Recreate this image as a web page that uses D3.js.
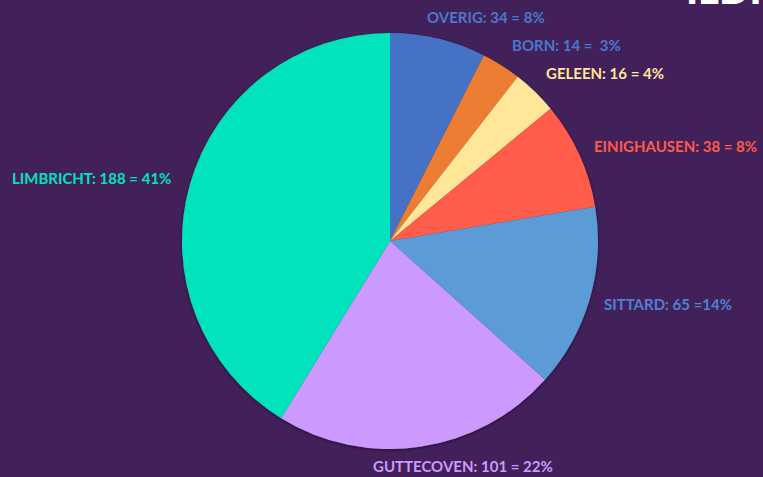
<!DOCTYPE html>
<html>
<head>
<meta charset="utf-8">
<script src="https://cdn.jsdelivr.net/npm/d3@7"></script>
<style>
  html, body { margin: 0; padding: 0; background: #42215a; overflow: hidden; }
  svg { display: block; }
</style>
</head>
<body>
<div id="chart"></div>
<script>
// Data (clockwise from 12 o'clock)
const places = ["OVERIG", "BORN", "GELEEN", "EINIGHAUSEN", "SITTARD", "GUTTECOVEN", "LIMBRICHT"];
const counts = [34, 14, 16, 38, 65, 101, 188];
const labels = ["OVERIG: 34 = 8%", "BORN: 14 =  3%", "GELEEN: 16 = 4%", "EINIGHAUSEN: 38 = 8%",
                "SITTARD: 65 =14%", "GUTTECOVEN: 101 = 22%", "LIMBRICHT: 188 = 41%"];

const sliceColors = ["#4472c4", "#ed7d31", "#ffe699", "#ff5b4b", "#5b9bd5", "#cc99ff", "#00e3bd"];
const labelColors = ["#4a78cc", "#4a78cc", "#ffe699", "#ff5b4b", "#4f80d2", "#cc99ff", "#00e3bd"];
// label anchor points (left x, baseline y) in page pixels
const labelPos = [[427, 23], [512, 51], [546, 79], [594, 152], [604, 310], [373, 472], [12, 184]];

const width = 763, height = 477;
const cx = 390, cy = 241, radius = 208;

const svg = d3.select("#chart")
  .append("svg")
  .attr("width", width)
  .attr("height", height);

svg.append("rect")
  .attr("width", width)
  .attr("height", height)
  .attr("fill", "#42215a");

// soft shadow round the pie
const defs = svg.append("defs");
const shadow = defs.append("filter")
  .attr("id", "shadow")
  .attr("x", "-10%").attr("y", "-10%")
  .attr("width", "120%").attr("height", "120%");
shadow.append("feDropShadow")
  .attr("dx", 0).attr("dy", 1)
  .attr("stdDeviation", 1.5)
  .attr("flood-color", "#1a0b26")
  .attr("flood-opacity", 0.8);

const data = places.map((p, i) => ({ place: p, count: counts[i], i: i }));

const pie = d3.pie()
  .sort(null)
  .value(d => d.count);

const arc = d3.arc()
  .innerRadius(0)
  .outerRadius(radius);

const pieGroup = svg.append("g")
  .attr("transform", `translate(${cx},${cy})`)
  .attr("filter", "url(#shadow)");

pieGroup.selectAll("path")
  .data(pie(data))
  .join("path")
  .attr("d", arc)
  .attr("fill", d => sliceColors[d.data.i]);

// labels
svg.selectAll("text.lbl")
  .data(data)
  .join("text")
  .attr("class", "lbl")
  .attr("x", d => labelPos[d.i][0])
  .attr("y", d => labelPos[d.i][1])
  .attr("fill", d => labelColors[d.i])
  .style("font-family", "Lato, 'Open Sans', sans-serif")
  .style("font-weight", "bold")
  .style("font-size", "15px")
  .style("white-space", "pre")
  .attr("xml:space", "preserve")
  .text(d => labels[d.i]);

// cut-off title at the top right corner
svg.append("text")
  .attr("x", 686)
  .attr("y", 4)
  .attr("fill", "#ffffff")
  .style("font-family", "Lato, sans-serif")
  .style("font-weight", "900")
  .style("font-size", "40px")
  .text("ILDI");
</script>
</body>
</html>
